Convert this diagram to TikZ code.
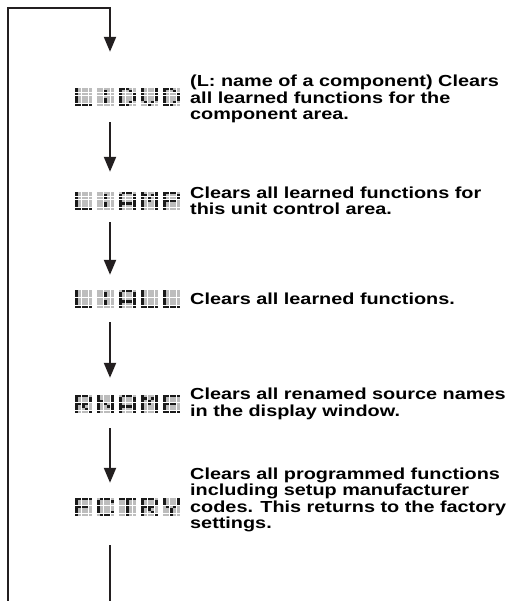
\documentclass[tikz,border=0pt]{standalone}
\usepackage{fontspec}
\setmainfont{Liberation Sans}[FakeStretch=1.24]
\usetikzlibrary{positioning,arrows.meta}
\definecolor{lcdOn}{HTML}{1A1A1A}
\definecolor{lcdOff}{HTML}{BDBDBD}
\definecolor{flowLine}{HTML}{231F20}

% 5x7 dot patterns, one number per row (16 = left column)
\def\glyphL{16,16,16,16,16,16,31}
\def\glyphColon{0,4,4,0,4,4,0}
\def\glyphD{28,18,17,17,17,18,28}
\def\glyphV{17,17,17,17,17,10,4}
\def\glyphA{14,17,17,17,31,17,17}
\def\glyphM{17,27,21,21,17,17,17}
\def\glyphP{30,17,17,30,16,16,16}
\def\glyphR{30,17,17,30,20,18,17}
\def\glyphN{17,17,25,21,19,17,17}
\def\glyphE{31,16,16,30,16,16,31}
\def\glyphF{31,16,16,30,16,16,16}
\def\glyphC{14,17,16,16,16,17,14}
\def\glyphT{31,4,4,4,4,4,4}
\def\glyphY{17,17,17,10,4,4,4}

% draws the dot matrix characters inside a display node
\newcommand{\lcdshow}[2]{%
  \foreach \g [count=\k from 0] in {#2} {
    \edef\rows{\g}
    \foreach \r [count=\i from 0] in \rows {
      \foreach \c in {0,...,4} {
        \pgfmathtruncatemacro\bit{mod(floor(\r/2^(4-\c)),2)}
        \ifnum\bit=1 \def\dotcol{lcdOn}\else\def\dotcol{lcdOff}\fi
        \fill[\dotcol, shift={(#1.north west)}] (\k*22+\c*3.5, \i*2.7) rectangle ++(2.8,2.2);
      }
    }
  }
}

\begin{document}
\begin{tikzpicture}[x=1pt, y=-1pt, font=\bfseries\fontsize{16}{16.4}\selectfont, node distance=10pt,
  lcd/.style={minimum width=104.8pt, minimum height=18.4pt, inner sep=0pt},
  desc/.style={align=left, inner sep=0pt},
  flow/.style={line width=2.2pt, flowLine},
  tip/.style={-{Triangle[width=12pt,length=15pt]}}]
\useasboundingbox (0,0) rectangle (508,601);

\node[lcd] (dvd) at (127.4,97) {};
\node[lcd] (amp) at (127.4,201) {};
\node[lcd] (all) at (127.4,299) {};
\node[lcd] (rname) at (127.4,404) {};
\node[lcd] (fctry) at (127.4,507) {};

\lcdshow{dvd}{\glyphL,\glyphColon,\glyphD,\glyphV,\glyphD}
\lcdshow{amp}{\glyphL,\glyphColon,\glyphA,\glyphM,\glyphP}
\lcdshow{all}{\glyphL,\glyphColon,\glyphA,\glyphL,\glyphL}
\lcdshow{rname}{\glyphR,\glyphN,\glyphA,\glyphM,\glyphE}
\lcdshow{fctry}{\glyphF,\glyphC,\glyphT,\glyphR,\glyphY}

\node[desc, right=of dvd, yshift=-2pt] (dvdtxt) {(L: name of a component) Clears\\all learned functions for the\\component area.};
\node[desc, right=of amp] (amptxt) {Clears all learned functions for\\this unit control area.};
\node[desc, right=of all] (alltxt) {Clears all learned functions.};
\node[desc, right=of rname] (rnametxt) {Clears all renamed source names\\in the display window.};
\node[desc, right=of fctry, yshift=7pt] (fctrytxt) {Clears all programmed functions\\including setup manufacturer\\codes. This returns to the factory\\settings.};

% loop back to the top
\coordinate (loopin) at (8,601);
\coordinate (corner) at (8,8);
\coordinate (spine) at (110,601);
\draw[flow, tip, shorten >=35.8pt] (loopin) -- (corner) -| (dvd.north -| spine);
\draw[flow, tip, shorten <=15.8pt, shorten >=19.8pt] (dvd.south -| spine) -- (amp.north -| spine);
\draw[flow, tip, shorten <=11.8pt, shorten >=14.8pt] (amp.south -| spine) -- (all.north -| spine);
\draw[flow, tip, shorten <=13.8pt, shorten >=16.8pt] (all.south -| spine) -- (rname.north -| spine);
\draw[flow, tip, shorten <=14.8pt, shorten >=14.8pt] (rname.south -| spine) -- (fctry.north -| spine);
\draw[flow, shorten <=28.8pt] (fctry.south -| spine) -- (spine);
\end{tikzpicture}
\end{document}
